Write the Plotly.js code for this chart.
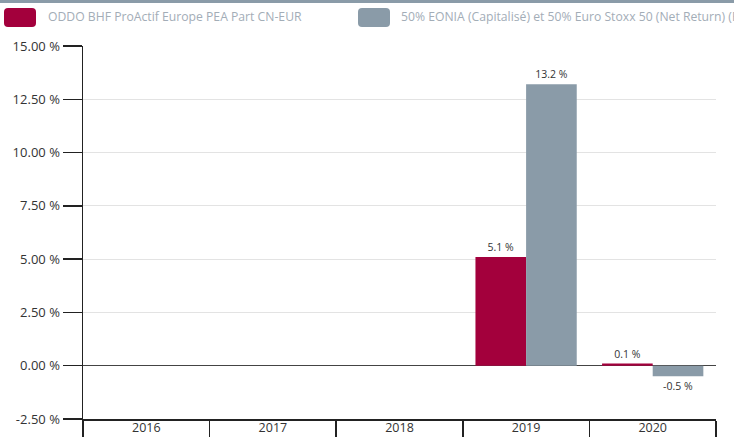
<!DOCTYPE html>
<html>
<head>
<meta charset="utf-8">
<script src="https://cdn.plot.ly/plotly-3.0.1.min.js"></script>
<style>
  html, body { margin: 0; padding: 0; background: #fff; }
  #chart { width: 734px; height: 437px; }
</style>
</head>
<body>
<div id="chart"></div>
<script>
const years = ["2016", "2017", "2018", "2019", "2020"];
const fundName = "ODDO BHF ProActif Europe PEA Part CN-EUR";
const benchName = "50% EONIA (Capitalisé) et 50% Euro Stoxx 50 (Net Return) (EUR)";
const fundValues = [null, null, null, 5.1, 0.1];
const benchValues = [null, null, null, 13.2, -0.5];
const yTicks = [-2.5, 0, 2.5, 5, 7.5, 10, 12.5, 15];
const yTickLabels = ["-2.50 %", "0.00 %", "2.50 %", "5.00 %", "7.50 %", "10.00 %", "12.50 %", "15.00 %"];

const fundColor = "#a3003c";
const benchColor = "#8a9ba8";
const font = "Open Sans, Segoe UI, DejaVu Sans, sans-serif";
const legendFont = "Open Sans, sans-serif";

function labels(vals) {
  return vals.map(v => v === null ? "" : v.toFixed(1) + " %");
}

const traces = [
  {
    type: "bar", name: fundName, x: years, y: fundValues,
    marker: { color: fundColor },
    text: labels(fundValues), textposition: "outside", cliponaxis: false,
    textfont: { family: font, size: 10.5, color: "#333" },
    hoverinfo: "skip"
  },
  {
    type: "bar", name: benchName, x: years, y: benchValues,
    marker: { color: benchColor },
    text: labels(benchValues), textposition: "outside", cliponaxis: false,
    textfont: { family: font, size: 10.5, color: "#333" },
    hoverinfo: "skip"
  }
];

const legendItems = [
  { name: fundName, color: fundColor, x0: 4, textX: 46 },
  { name: benchName, color: benchColor, x0: 358, textX: 399 }
];

const W = 734, H = 437;
const mL = 83, mR = 18, mT = 46, mB = 18;
const pw = W - mL - mR, ph = H - mT - mB;
const px = x => (x - mL) / pw;
const py = y => 1 - (y - mT) / ph;

const shapes = [
  { type: "rect", xref: "paper", yref: "paper", x0: px(0), x1: px(734), y0: py(0), y1: py(3), fillcolor: "#8a9ba8", line: { width: 0 }, layer: "above" }
];
const annotations = [];
legendItems.forEach(it => {
  const x0 = px(it.x0), x1 = px(it.x0 + 32);
  const yTop = py(8), yBot = py(27);
  const rx = 4 / pw, ry = 4 / ph;
  const path = `M${x0 + rx},${yTop} L${x1 - rx},${yTop} Q${x1},${yTop} ${x1},${yTop - ry} L${x1},${yBot + ry} Q${x1},${yBot} ${x1 - rx},${yBot} L${x0 + rx},${yBot} Q${x0},${yBot} ${x0},${yBot + ry} L${x0},${yTop - ry} Q${x0},${yTop} ${x0 + rx},${yTop} Z`;
  shapes.push({ type: "path", xref: "paper", yref: "paper", path: path, fillcolor: it.color, line: { width: 0 } });
  annotations.push({
    xref: "paper", yref: "paper", x: px(it.textX), y: py(16.5),
    xanchor: "left", yanchor: "middle", showarrow: false,
    text: it.name, font: { family: legendFont, size: 12.2, color: "#a3adb7" }
  });
});

const layout = {
  width: W, height: H,
  margin: { l: mL, r: mR, t: mT, b: mB, pad: 0 },
  paper_bgcolor: "#fff", plot_bgcolor: "#fff",
  showlegend: false,
  barmode: "group", bargap: 0.2, bargroupgap: 0,
  font: { family: font, color: "#333" },
  xaxis: {
    type: "category",
    showgrid: false,
    showline: true, linecolor: "#222", linewidth: 1.5,
    ticks: "outside", tickson: "boundaries", ticklen: 18, tickwidth: 1.5, tickcolor: "#222",
    ticklabelstandoff: -4,
    tickfont: { family: font, size: 12.5, color: "#333" },
    zeroline: false, fixedrange: true
  },
  yaxis: {
    range: [-2.5, 15],
    tickvals: yTicks, ticktext: yTickLabels,
    showgrid: true, gridcolor: "#e3e3e3", gridwidth: 1,
    showline: true, linecolor: "#222", linewidth: 1.5,
    ticks: "outside", ticklen: 19, tickwidth: 1.5, tickcolor: "#222",
    tickfont: { family: font, size: 13, color: "#333" },
    zeroline: true, zerolinecolor: "#444", zerolinewidth: 1,
    fixedrange: true
  },
  shapes: shapes,
  annotations: annotations
};

Plotly.newPlot("chart", traces, layout, { displayModeBar: false, staticPlot: true });
</script>
</body>
</html>
